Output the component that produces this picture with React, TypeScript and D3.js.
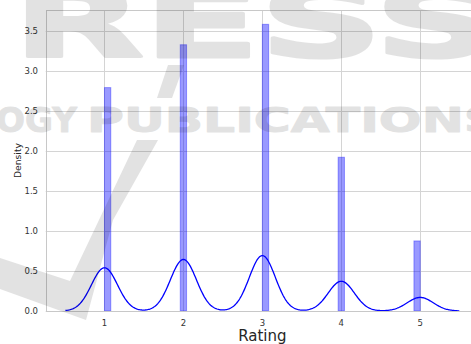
import React from "react";
import * as d3 from "d3";

// ---- data ----
const ratings = [1, 2, 3, 4, 5];
const densities = [2.79, 3.325, 3.58, 1.92, 0.875];
const binStart = 1;
const binWidth = 0.08;
const binCount = 50;
const kdeBandwidth = 0.165;
const yTicks = [0, 0.5, 1.0, 1.5, 2.0, 2.5, 3.0, 3.5];
const xTicks = [1, 2, 3, 4, 5];
const xLabel = "Rating";
const yLabel = "Density";

const W = 471;
const H = 344;
const plotLeft = 45.7;
const plotRight = 479;
const plotTop = 10;
const plotBottom = 311;

const FONT = "'DejaVu Sans', sans-serif";

export default function App() {
  const kdeMin = d3.min(ratings)! - 3 * kdeBandwidth;
  const kdeMax = d3.max(ratings)! + 3 * kdeBandwidth;
  const span = kdeMax - kdeMin;
  const x = d3
    .scaleLinear()
    .domain([kdeMin - 0.05 * span, kdeMax + 0.05 * span])
    .range([plotLeft, plotRight]);
  const y = d3
    .scaleLinear()
    .domain([0, d3.max(densities)! * 1.05])
    .range([plotBottom, plotTop]);

  const bars = ratings.map((r, i) => {
    const idx = Math.min(binCount - 1, Math.floor((r - binStart) / binWidth + 1e-9));
    const x0 = binStart + idx * binWidth;
    return { x0, x1: x0 + binWidth, d: densities[i] };
  });

  const weights = densities.map((d) => d * binWidth);
  const kde = (v: number) =>
    d3.sum(ratings, (r, i) => {
      const z = (v - r) / kdeBandwidth;
      return (weights[i] * Math.exp(-0.5 * z * z)) / (kdeBandwidth * Math.sqrt(2 * Math.PI));
    });
  const kdePts = d3.range(kdeMin, kdeMax + 1e-9, 0.01).map((v) => [v, kde(v)] as [number, number]);
  const line = d3
    .line<[number, number]>()
    .x((p) => x(p[0]))
    .y((p) => y(p[1]));

  return (
    <svg
      width={W}
      height={H}
      style={{ position: "absolute", left: 0, top: 0, background: "#fff" }}
    >
      <rect x={0} y={0} width={W} height={H} fill="#fff" />
      {/* grid */}
      {yTicks.map((t) => (
        <line
          key={"gy" + t}
          x1={plotLeft}
          x2={plotRight}
          y1={Math.round(y(t)) + 0.5}
          y2={Math.round(y(t)) + 0.5}
          stroke="#d4d4d4"
          strokeWidth={1}
        />
      ))}
      {xTicks.map((t) => (
        <line
          key={"gx" + t}
          x1={Math.round(x(t)) + 0.5}
          x2={Math.round(x(t)) + 0.5}
          y1={plotTop}
          y2={plotBottom}
          stroke="#d4d4d4"
          strokeWidth={1}
        />
      ))}
      {/* bars */}
      {bars.map((b, i) => (
        <rect
          key={"b" + i}
          x={x(b.x0)}
          width={x(b.x1) - x(b.x0)}
          y={y(b.d)}
          height={y(0) - y(b.d)}
          fill="rgba(0,0,255,0.4)"
          stroke="rgba(0,0,255,0.35)"
          strokeWidth={1}
        />
      ))}
      {/* kde */}
      <path d={line(kdePts) || ""} fill="none" stroke="#0000ff" strokeWidth={1.3} />
      {/* frame */}
      <rect
        x={Math.round(plotLeft) + 0.5}
        y={Math.round(plotTop) + 0.5}
        width={plotRight - plotLeft}
        height={Math.round(plotBottom) - Math.round(plotTop)}
        fill="none"
        stroke="#c8c8c8"
        strokeWidth={1}
      />
      {/* tick labels */}
      {yTicks.map((t) => (
        <text
          key={"ty" + t}
          x={38}
          y={y(t)}
          dy="0.35em"
          textAnchor="end"
          fontFamily={FONT}
          fontSize={8.5}
          fill="#333"
        >
          {t.toFixed(1)}
        </text>
      ))}
      {xTicks.map((t) => (
        <text
          key={"tx" + t}
          x={x(t)}
          y={325.5}
          textAnchor="middle"
          fontFamily={FONT}
          fontSize={8.5}
          fill="#333"
        >
          {t}
        </text>
      ))}
      <text
        transform={`translate(20.5,${(plotTop + plotBottom) / 2}) rotate(-90)`}
        textAnchor="middle"
        fontFamily={FONT}
        fontSize={9.2}
        fill="#262626"
      >
        {yLabel}
      </text>
      <text
        x={(plotLeft + plotRight) / 2}
        y={341}
        textAnchor="middle"
        fontFamily={FONT}
        fontSize={15}
        fill="#262626"
      >
        {xLabel}
      </text>
      {/* watermark */}
      <g pointerEvents="none" opacity={0.11} fill="#000" stroke="#000" strokeLinejoin="round">
        <text
          x={13}
          y={57}
          fontFamily={FONT}
          fontWeight="bold"
          fontSize={96}
          strokeWidth={3}
          textLength={484}
          lengthAdjust="spacingAndGlyphs"
        >
          RESS
        </text>
        <text
          x={-4}
          y={132}
          fontFamily={FONT}
          fontWeight="bold"
          fontSize={33}
          strokeWidth={1}
          textLength={81}
          lengthAdjust="spacingAndGlyphs"
        >
          OGY
        </text>
        <text
          x={87}
          y={132}
          fontFamily={FONT}
          fontWeight="bold"
          fontSize={33}
          strokeWidth={1}
          textLength={413}
          lengthAdjust="spacingAndGlyphs"
        >
          PUBLICATIONS
        </text>
        <polygon points="168,65 184,65 172,98 157,98" stroke="none" />
        <polygon points="137,140 158,140 113,220 86,320 0,289 0,258 70,281" stroke="none" />
      </g>
    </svg>
  );
}
